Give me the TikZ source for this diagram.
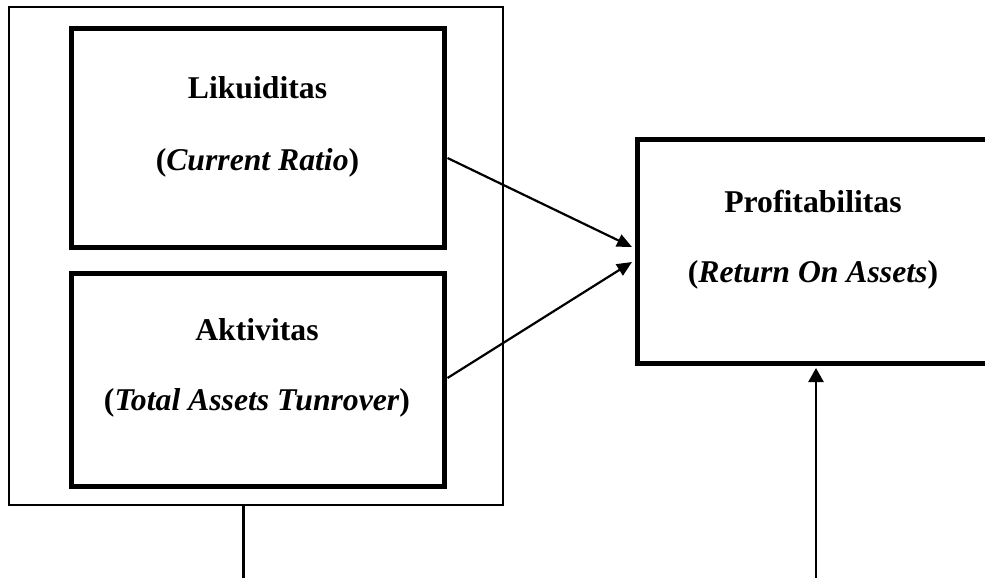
\documentclass[tikz,border=0pt]{standalone}
\usepackage{fontspec}
\setmainfont{Liberation Serif}
\usetikzlibrary{arrows.meta}
\begin{document}
\begin{tikzpicture}[x=1pt,y=-1pt,
  thickbox/.style={draw,line width=5pt,inner sep=0pt},
  outerbox/.style={draw,line width=2pt,inner sep=0pt},
  label/.style={anchor=base,inner sep=0pt,font=\fontsize{31.7}{38}\selectfont\bfseries},
  conn/.style={line width=2.2pt,-{Triangle[length=15pt,width=13pt]}},
  plainline/.style={line width=3pt}]
\useasboundingbox (0,0) rectangle (985,578);
\clip (0,0) rectangle (985,578);
% boxes
\node[outerbox,minimum width=494pt,minimum height=498pt] (outer) at (256,256) {};
\node[thickbox,minimum width=373pt,minimum height=218pt] (liq) at (257.5,138) {};
\node[thickbox,minimum width=373pt,minimum height=213pt] (act) at (257.5,379.5) {};
\node[thickbox,minimum width=400pt,minimum height=224pt] (prof) at (837,251) {};
% texts
\node[label] (t1) at (257.5,99) {Likuiditas};
\node[label] (t2) at (257.5,170) {(\textit{Current Ratio})};
\node[label] (t3) at (257,340) {Aktivitas};
\node[label] (t4) at (257,410) {(\textit{Total Assets Tunrover})};
\node[label] (t5) at (813,212) {Profitabilitas};
\node[label] (t6) at (813,282) {(\textit{Return On Assets})};
% free ends
\coordinate (bl) at (243,580);
\coordinate (br) at (816,580);
% connectors
\draw[conn] ([xshift=1pt,yshift=-20pt]liq.east) -- ([xshift=-2.5pt,yshift=4pt]prof.west);
\draw[conn] ([xshift=1pt,yshift=1.5pt]act.east) -- ([xshift=-2.5pt,yshift=-11pt]prof.west);
\draw[plainline] (outer.south -| bl) -- (bl);
\draw[line width=2.5pt,-{Triangle[length=14pt,width=15pt]}] (br) -- ([yshift=-2.5pt]prof.south -| br);
\end{tikzpicture}
\end{document}
